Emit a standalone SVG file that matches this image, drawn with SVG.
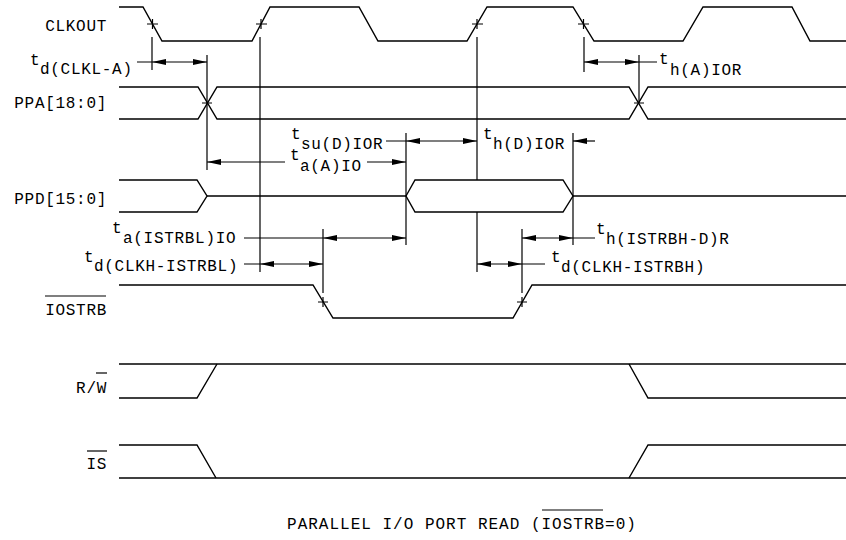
<svg xmlns="http://www.w3.org/2000/svg" width="846" height="540" viewBox="0 0 846 540">
<style>
.w{fill:none;stroke:#000;stroke-width:1.4;stroke-linejoin:miter}
.c{fill:none;stroke:#000;stroke-width:1.2}
.d{fill:none;stroke:#000;stroke-width:1.2;marker-end:url(#ah)}
.dd{fill:none;stroke:#000;stroke-width:1.2;marker-start:url(#ah);marker-end:url(#ah)}
text{font-family:"Liberation Mono","DejaVu Sans Mono",monospace;font-size:16px;letter-spacing:0.7px;fill:#000}
.r{text-anchor:end}
</style>
<defs>
<marker id="ah" viewBox="0 0 14 6" refX="14" refY="3" markerWidth="14" markerHeight="6" markerUnits="userSpaceOnUse" orient="auto-start-reverse">
<path d="M0,0 L14,3 L0,6 z" fill="#000"/>
</marker>
</defs>
<rect width="846" height="540" fill="#fff"/>

<g id="clkout">
<text class="r" x="107" y="31">CLKOUT</text>
<polyline class="w" points="119,7 143,7 162,41 252,41 270,7 359,7 378,41 467,41 487,7 573,7 594,41 683,41 703,7 792,7 810,41 846,41"/>
<path class="c" d="M147,24h11M152.5,19v10M256,24h11M261,19v10M472,24h11M477,19v10M578,24h11M583.5,19v10"/>
</g>

<g id="ppa">
<text class="r" x="107" y="108">PPA[18:0]</text>
<polyline class="w" points="119,87 198,87 217,119 629,119 648,87 846,87"/>
<polyline class="w" points="119,119 198,119 217,87 629,87 648,119 846,119"/>
<path class="c" d="M202,103h10M634,103h10"/>
</g>

<g id="ppd">
<text class="r" x="107" y="204">PPD[15:0]</text>
<polyline class="w" points="119,180 197,180 207,196 197,212 119,212"/>
<path class="w" d="M207,196H406M573,196H846"/>
<polygon class="w" points="406,196 415,180 563,180 573,196 563,212 415,212"/>
</g>

<g id="iostrb">
<text class="r" x="107" y="315">IOSTRB</text>
<path class="c" d="M45,296H106"/>
<polyline class="w" points="119,285 313,285 333,318 513,318 532,285 846,285"/>
<path class="c" d="M318,302h10M323,297v10M517,302h10M522,297v10"/>
</g>

<g id="rw">
<text class="r" x="107" y="393">R/W</text>
<path class="c" d="M96,373H107"/>
<path class="w" d="M119,364H846"/>
<polyline class="w" points="119,398 197,398 217,364"/>
<polyline class="w" points="629,364 648,398 846,398"/>
</g>

<g id="is">
<text class="r" x="107" y="469">IS</text>
<path class="c" d="M87,451H107"/>
<path class="w" d="M119,478H846"/>
<polyline class="w" points="119,445 197,445 216,478"/>
<polyline class="w" points="629,478 648,445 846,445"/>
</g>

<g id="labels">
<text x="30" y="65">t<tspan x="40" y="74">d(CLKL-A)</tspan></text>
<text x="659" y="64">t<tspan x="670" y="75">h(A)IOR</tspan></text>
<text x="291" y="139">t<tspan x="301" y="149">su(D)IOR</tspan></text>
<text x="483" y="139">t<tspan x="493" y="149">h(D)IOR</tspan></text>
<text x="290" y="160">t<tspan x="300" y="171">a(A)IO</tspan></text>
<text x="112" y="233">t<tspan x="123" y="243">a(ISTRBL)IO</tspan></text>
<text x="84" y="262">t<tspan x="94" y="271">d(CLKH-ISTRBL)</tspan></text>
<text x="596" y="234">t<tspan x="606" y="244">h(ISTRBH-D)R</tspan></text>
<text x="551" y="262">t<tspan x="561" y="272">d(CLKH-ISTRBH)</tspan></text>
</g>

<g id="connectors">
<path class="c" d="M152,37V70M260,37V272M477,37V180M477,212V272M584,37V72M207,55V170M639,55V103M406,133V245M573,133V245M323,229V293M522,229V293"/>
<path class="c" d="M137,62H152M639,62H657M386,141H406M244,238H323M244,264H260M573,238H595M522,264H545"/>
<path class="dd" d="M152,62H207"/>
<path class="dd" d="M584,62H639"/>
<path class="dd" d="M406,141H477"/>
<path class="d" d="M595,141H573"/>
<path class="d" d="M285,162H207"/>
<path class="d" d="M367,162H406"/>
<path class="dd" d="M323,238H406"/>
<path class="dd" d="M260,264H323"/>
<path class="dd" d="M522,238H573"/>
<path class="dd" d="M477,264H522"/>
</g>

<g id="title">
<text x="462" y="529" text-anchor="middle" style="letter-spacing:1px">PARALLEL I/O PORT READ (IOSTRB=0)</text>
<path class="c" d="M542,510H603"/>
</g>
</svg>
